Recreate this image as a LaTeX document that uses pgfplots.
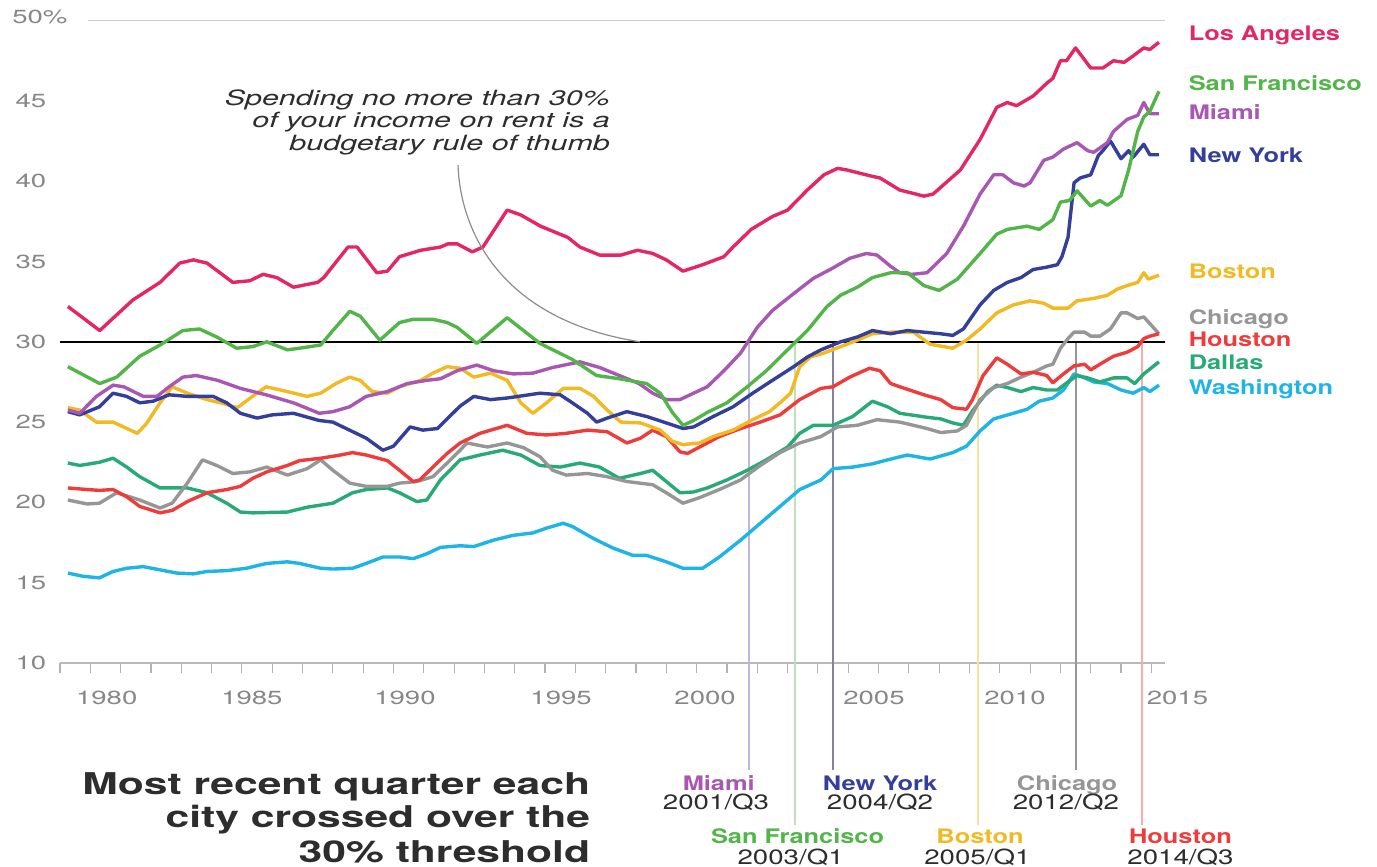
\documentclass[border=0pt]{standalone}
\usepackage{fontspec}
\setmainfont{TeX Gyre Heros}
\usepackage{graphicx}
\usepackage{pgfplots}
\pgfplotsset{compat=1.18}

\definecolor{cLA}{RGB}{228,38,100}
\definecolor{cSF}{RGB}{82,181,72}
\definecolor{cMI}{RGB}{168,88,178}
\definecolor{cNY}{RGB}{52,62,155}
\definecolor{cBO}{RGB}{242,185,35}
\definecolor{cCH}{RGB}{150,150,150}
\definecolor{cHO}{RGB}{238,60,60}
\definecolor{cDA}{RGB}{40,170,120}
\definecolor{cWA}{RGB}{30,180,230}
\definecolor{lMI}{RGB}{190,185,220}
\definecolor{lSF}{RGB}{190,225,185}
\definecolor{lNY}{RGB}{130,130,165}
\definecolor{lBO}{RGB}{245,225,160}
\definecolor{lCH}{RGB}{150,150,150}
\definecolor{lHO}{RGB}{245,175,170}
\definecolor{tickgray}{RGB}{135,135,135}
\definecolor{darktext}{RGB}{45,45,45}

\newcommand{\SX}[2]{\scalebox{#1}[1]{#2}}

\tikzset{
  ticklab/.style={font=\fontsize{9.5}{11}\selectfont, text=tickgray, inner sep=0pt},
  citylab/.style={font=\fontsize{10}{12}\selectfont\bfseries, inner sep=0pt, anchor=base west},
  botcity/.style={font=\fontsize{10}{12}\selectfont\bfseries, inner sep=0pt, anchor=base},
  botdate/.style={font=\fontsize{10.4}{12}\selectfont, text=darktext, inner sep=0pt, anchor=base},
  titlelab/.style={font=\fontsize{15}{18}\selectfont\bfseries, text=darktext, inner sep=0pt, anchor=base east},
  notelab/.style={font=\fontsize{10.5}{12}\selectfont\itshape, text=darktext, inner sep=0pt, anchor=base east},
}

\begin{document}
\begin{tikzpicture}
\begin{axis}[
  at={(0,0)}, anchor=south west,
  scale only axis, width=552.5pt, height=321.2pt,
  xmin=1979, xmax=2015.45, ymin=10, ymax=50,
  clip=false,
  axis x line=bottom, axis y line=none,
  x axis line style={draw=black!28, line width=1pt, -},
  xtick={1979,1980,...,2015}, xticklabels={}, tick align=outside,
  major tick length=5pt,
  xtick style={draw=black!30, line width=0.6pt},
  ytick={15,20,25,35,40,45}, yticklabels={}, ytick style={draw=none},
  ymajorgrids, grid style={black!20, line width=0.9pt},
  every axis plot/.append style={line width=1.7pt, line join=round, no markers},
]
% crossing lines
\draw[lMI, line width=0.8pt] (axis cs:2001.73,30) -- (axis cs:2001.73,3.34);
\draw[lSF, line width=0.8pt] (axis cs:2003.25,30) -- (axis cs:2003.25,-0.09);
\draw[lNY, line width=0.8pt] (axis cs:2004.5,30) -- (axis cs:2004.5,3.34);
\draw[lBO, line width=0.8pt] (axis cs:2009.29,30) -- (axis cs:2009.29,-0.09);
\draw[lCH, line width=0.8pt] (axis cs:2012.52,30) -- (axis cs:2012.52,3.34);
\draw[lHO, line width=0.8pt] (axis cs:2014.7,30) -- (axis cs:2014.7,-0.09);
% special grid lines
\draw[black!20, line width=0.9pt] (axis cs:1979.92,50) -- (axis cs:2015.45,50);
\draw[black, line width=1.3pt] (axis cs:1979,30) -- (axis cs:2015.45,30);

% Washington
\addplot[cWA] coordinates {(1979.26,15.6)(1979.75,15.4)(1980.3,15.3)(1980.75,15.7)(1981.2,15.9)(1981.75,16.0)(1982.3,15.8)(1982.85,15.6)(1983.4,15.55)(1983.85,15.7)(1984.5,15.75)(1985.15,15.9)(1985.82,16.2)(1986.5,16.3)(1986.9,16.2)(1987.6,15.9)(1988.0,15.85)(1988.65,15.9)(1989.1,16.2)(1989.65,16.6)(1990.2,16.6)(1990.65,16.5)(1991.1,16.8)(1991.55,17.2)(1992.2,17.3)(1992.65,17.25)(1993.3,17.65)(1993.95,17.95)(1994.6,18.1)(1995.05,18.4)(1995.6,18.7)(1995.9,18.5)(1996.6,17.75)(1997.25,17.15)(1997.9,16.7)(1998.35,16.7)(1999.0,16.3)(1999.55,15.9)(2000.2,15.9)(2000.75,16.6)(2001.45,17.65)(2002.1,18.7)(2002.75,19.75)(2003.4,20.8)(2004.1,21.4)(2004.5,22.1)(2005.15,22.2)(2005.8,22.4)(2006.3,22.65)(2006.95,22.95)(2007.7,22.7)(2008.45,23.1)(2008.9,23.5)(2009.35,24.45)(2009.8,25.2)(2010.45,25.55)(2010.9,25.8)(2011.3,26.3)(2011.75,26.5)(2012.1,27.0)(2012.45,28.0)(2012.8,27.75)(2013.1,27.5)(2013.55,27.4)(2014.0,27.0)(2014.4,26.8)(2014.75,27.15)(2014.95,26.9)(2015.25,27.3)};
% Dallas
\addplot[cDA] coordinates {(1979.26,22.45)(1979.65,22.3)(1980.3,22.5)(1980.75,22.75)(1981.2,22.2)(1981.63,21.6)(1982.3,20.9)(1983.2,20.9)(1983.85,20.6)(1984.5,19.95)(1984.95,19.4)(1985.36,19.35)(1986.5,19.4)(1987.15,19.7)(1988.0,19.95)(1988.65,20.6)(1989.1,20.8)(1989.8,20.9)(1990.2,20.6)(1990.77,20.05)(1991.1,20.15)(1991.55,21.4)(1992.2,22.65)(1992.85,22.95)(1993.6,23.25)(1994.2,22.95)(1994.83,22.3)(1995.5,22.2)(1996.15,22.45)(1996.8,22.2)(1997.45,21.5)(1998.15,21.8)(1998.55,22.0)(1999.0,21.3)(1999.45,20.6)(1999.9,20.65)(2000.35,20.9)(2001.0,21.4)(2001.67,22.0)(2002.3,22.65)(2003.0,23.45)(2003.4,24.3)(2003.85,24.8)(2004.5,24.8)(2005.15,25.35)(2005.8,26.3)(2006.3,25.95)(2006.7,25.55)(2007.6,25.3)(2008.05,25.2)(2008.45,24.95)(2008.8,24.8)(2009.1,25.7)(2009.6,26.9)(2009.9,27.3)(2010.25,27.15)(2010.7,26.9)(2011.1,27.15)(2011.55,27.0)(2011.9,27.0)(2012.25,27.5)(2012.55,27.9)(2012.9,27.75)(2013.3,27.5)(2013.75,27.75)(2014.2,27.75)(2014.45,27.4)(2014.75,28.0)(2015.25,28.75)};
% Chicago
\addplot[cCH] coordinates {(1979.26,20.15)(1979.9,19.9)(1980.3,19.95)(1980.87,20.6)(1981.63,20.15)(1982.3,19.65)(1982.7,19.95)(1983.2,21.2)(1983.7,22.65)(1984.17,22.3)(1984.7,21.8)(1985.26,21.9)(1985.82,22.2)(1986.5,21.7)(1987.15,22.1)(1987.6,22.65)(1988.0,22.0)(1988.56,21.2)(1989.1,21.0)(1989.8,21.0)(1990.2,21.2)(1990.77,21.3)(1991.3,21.6)(1991.77,22.45)(1992.2,23.25)(1992.42,23.7)(1993.1,23.45)(1993.75,23.7)(1994.3,23.4)(1994.83,22.85)(1995.25,22.0)(1995.7,21.7)(1996.4,21.8)(1997.05,21.6)(1997.7,21.3)(1998.55,21.1)(1999.0,20.6)(1999.55,19.95)(2000.1,20.3)(2000.75,20.8)(2001.45,21.4)(2002.1,22.3)(2002.75,23.1)(2003.4,23.7)(2004.1,24.1)(2004.65,24.7)(2005.3,24.8)(2005.95,25.15)(2006.7,25.0)(2007.6,24.6)(2008.05,24.35)(2008.6,24.45)(2008.9,24.8)(2009.35,26.4)(2009.8,27.15)(2010.25,27.4)(2010.7,27.8)(2011.1,28.1)(2011.55,28.5)(2011.75,28.6)(2012.0,29.6)(2012.25,30.2)(2012.45,30.6)(2012.8,30.6)(2013.0,30.35)(2013.3,30.35)(2013.65,30.8)(2014.0,31.8)(2014.2,31.8)(2014.55,31.45)(2014.75,31.55)(2015.25,30.5)};
% Houston
\addplot[cHO] coordinates {(1979.26,20.9)(1979.9,20.8)(1980.3,20.75)(1980.75,20.8)(1981.2,20.35)(1981.63,19.75)(1982.3,19.35)(1982.7,19.5)(1983.2,20.05)(1983.85,20.6)(1984.5,20.8)(1984.95,21.0)(1985.36,21.5)(1985.82,21.9)(1986.5,22.3)(1986.9,22.6)(1987.6,22.75)(1988.25,22.95)(1988.65,23.1)(1989.1,22.95)(1989.8,22.6)(1990.2,22.0)(1990.65,21.3)(1990.87,21.4)(1991.3,22.2)(1991.77,23.05)(1992.2,23.7)(1992.85,24.3)(1993.75,24.8)(1994.4,24.3)(1995.05,24.2)(1995.7,24.3)(1996.4,24.5)(1997.05,24.4)(1997.7,23.7)(1998.15,24.0)(1998.55,24.5)(1999.0,24.1)(1999.45,23.15)(1999.7,23.05)(2000.1,23.45)(2000.75,24.1)(2001.45,24.6)(2002.1,25.0)(2002.75,25.45)(2003.4,26.4)(2004.1,27.1)(2004.5,27.2)(2005.05,27.8)(2005.7,28.35)(2006.05,28.2)(2006.4,27.4)(2006.7,27.2)(2007.5,26.7)(2008.05,26.4)(2008.45,25.9)(2008.9,25.8)(2009.1,26.4)(2009.45,27.9)(2009.9,29.0)(2010.25,28.6)(2010.7,28.0)(2011.1,28.1)(2011.55,27.9)(2011.75,27.45)(2012.1,28.0)(2012.45,28.5)(2012.8,28.6)(2013.0,28.25)(2013.3,28.6)(2013.75,29.1)(2014.2,29.35)(2014.55,29.7)(2014.75,30.2)(2014.95,30.35)(2015.25,30.5)};
% Boston
\addplot[cBO] coordinates {(1979.26,25.9)(1979.65,25.75)(1980.2,25.0)(1980.75,25.0)(1981.55,24.3)(1981.85,24.9)(1982.3,26.2)(1982.7,27.2)(1983.2,26.8)(1983.85,26.4)(1984.3,26.2)(1984.85,25.9)(1985.35,26.6)(1985.8,27.2)(1986.5,26.9)(1987.15,26.6)(1987.6,26.8)(1988.1,27.4)(1988.55,27.8)(1988.9,27.6)(1989.3,26.9)(1989.8,26.8)(1990.2,27.2)(1990.9,27.6)(1991.3,28.05)(1991.77,28.45)(1992.2,28.35)(1992.65,27.8)(1993.2,28.05)(1993.75,27.6)(1994.2,26.2)(1994.6,25.55)(1995.05,26.2)(1995.6,27.1)(1996.15,27.1)(1996.6,26.6)(1997.05,25.75)(1997.5,25.0)(1998.15,24.95)(1998.8,24.5)(1999.2,23.8)(1999.55,23.6)(2000.1,23.7)(2000.55,24.1)(2001.2,24.5)(2001.85,25.15)(2002.4,25.65)(2002.75,26.2)(2003.1,26.8)(2003.4,28.45)(2003.75,29.05)(2004.2,29.3)(2004.75,29.7)(2005.3,30.1)(2005.8,30.5)(2006.4,30.6)(2007.15,30.6)(2007.7,29.85)(2008.45,29.6)(2008.9,30.1)(2009.35,30.8)(2009.9,31.8)(2010.45,32.3)(2011.0,32.55)(2011.45,32.4)(2011.75,32.1)(2012.25,32.1)(2012.55,32.55)(2013.1,32.7)(2013.55,32.9)(2013.9,33.3)(2014.2,33.5)(2014.55,33.7)(2014.75,34.3)(2014.9,33.9)(2015.25,34.15)};
% New York
\addplot[cNY] coordinates {(1979.26,25.65)(1979.65,25.45)(1980.3,25.95)(1980.75,26.8)(1981.2,26.6)(1981.63,26.2)(1982.07,26.3)(1982.6,26.7)(1983.2,26.6)(1984.05,26.6)(1984.5,26.2)(1984.95,25.55)(1985.5,25.25)(1986.0,25.45)(1986.7,25.55)(1987.55,25.1)(1988.0,25.0)(1988.55,24.5)(1989.1,24.0)(1989.65,23.25)(1990.0,23.5)(1990.55,24.7)(1990.97,24.5)(1991.45,24.6)(1991.85,25.35)(1992.2,26.0)(1992.65,26.6)(1993.2,26.4)(1993.75,26.5)(1994.83,26.8)(1995.5,26.7)(1995.9,26.2)(1996.4,25.55)(1996.7,25.0)(1997.05,25.25)(1997.7,25.65)(1998.35,25.35)(1999.0,24.95)(1999.55,24.6)(1999.9,24.7)(2000.55,25.35)(2001.2,25.95)(2001.85,26.8)(2002.5,27.6)(2003.2,28.45)(2003.65,29.05)(2004.1,29.5)(2004.75,30.0)(2005.3,30.3)(2005.8,30.7)(2006.4,30.5)(2006.95,30.7)(2007.5,30.6)(2008.05,30.5)(2008.45,30.4)(2008.8,30.8)(2009.35,32.3)(2009.8,33.2)(2010.25,33.7)(2010.7,34.0)(2011.1,34.5)(2011.55,34.65)(2011.9,34.8)(2012.05,35.3)(2012.25,36.5)(2012.45,39.9)(2012.65,40.2)(2013.0,40.4)(2013.25,41.6)(2013.4,41.9)(2013.65,42.5)(2014.0,41.4)(2014.25,41.9)(2014.4,41.5)(2014.75,42.3)(2014.95,41.65)(2015.25,41.65)};
% Miami
\addplot[cMI] coordinates {(1979.26,25.75)(1979.65,25.55)(1980.2,26.6)(1980.75,27.3)(1981.1,27.2)(1981.75,26.6)(1982.2,26.6)(1982.6,27.2)(1983.05,27.8)(1983.5,27.9)(1984.2,27.6)(1984.95,27.1)(1985.8,26.7)(1986.7,26.2)(1987.55,25.55)(1988.0,25.65)(1988.55,25.95)(1989.1,26.6)(1989.8,26.9)(1990.45,27.4)(1991.1,27.6)(1991.55,27.7)(1992.1,28.2)(1992.75,28.55)(1993.3,28.2)(1993.95,28.0)(1994.6,28.05)(1995.25,28.4)(1996.15,28.75)(1996.8,28.4)(1997.45,27.9)(1998.1,27.4)(1998.55,26.8)(1999.0,26.4)(1999.45,26.4)(1999.9,26.8)(2000.35,27.2)(2000.9,28.2)(2001.45,29.3)(2002.0,30.9)(2002.5,31.95)(2003.2,33.0)(2003.85,33.95)(2004.5,34.6)(2005.05,35.2)(2005.6,35.5)(2005.95,35.4)(2006.4,34.7)(2006.7,34.3)(2007.1,34.2)(2007.6,34.3)(2008.25,35.5)(2008.8,37.2)(2009.35,39.2)(2009.8,40.4)(2010.1,40.4)(2010.45,39.9)(2010.8,39.7)(2011.0,39.9)(2011.45,41.3)(2011.75,41.5)(2012.1,42.0)(2012.55,42.4)(2012.9,41.9)(2013.1,41.8)(2013.55,42.4)(2013.75,43.1)(2014.2,43.85)(2014.55,44.1)(2014.75,44.9)(2014.95,44.2)(2015.25,44.2)};
% San Francisco
\addplot[cSF] coordinates {(1979.26,28.45)(1980.31,27.4)(1980.87,27.8)(1981.63,29.1)(1982.3,29.8)(1983.05,30.7)(1983.6,30.8)(1984.17,30.3)(1984.83,29.6)(1985.36,29.7)(1985.82,30.0)(1986.5,29.5)(1986.9,29.6)(1987.6,29.8)(1988.0,30.7)(1988.56,31.9)(1988.9,31.6)(1989.55,30.1)(1990.2,31.2)(1990.65,31.4)(1991.3,31.4)(1991.77,31.2)(1992.1,30.9)(1992.75,29.9)(1993.75,31.5)(1994.83,29.9)(1995.9,28.9)(1996.7,27.9)(1997.45,27.7)(1998.35,27.4)(1998.8,26.8)(1999.2,25.6)(1999.55,24.8)(1999.9,25.1)(2000.35,25.6)(2001.0,26.2)(2001.67,27.2)(2002.3,28.2)(2003.0,29.5)(2003.65,30.7)(2004.3,32.2)(2004.75,32.9)(2005.3,33.4)(2005.8,34.0)(2006.4,34.3)(2006.95,34.3)(2007.5,33.5)(2008.0,33.2)(2008.6,33.9)(2009.35,35.5)(2009.9,36.7)(2010.25,37.0)(2010.9,37.2)(2011.3,37.0)(2011.75,37.6)(2012.0,38.7)(2012.3,38.8)(2012.55,39.4)(2013.0,38.45)(2013.3,38.8)(2013.55,38.5)(2014.0,39.1)(2014.25,40.7)(2014.55,43.1)(2014.75,44.0)(2014.95,44.35)(2015.25,45.6)};
% Los Angeles
\addplot[cLA] coordinates {(1979.26,32.2)(1980.31,30.7)(1981.4,32.6)(1982.3,33.7)(1982.95,34.9)(1983.4,35.1)(1983.85,34.9)(1984.7,33.7)(1985.26,33.8)(1985.7,34.2)(1986.15,34.0)(1986.7,33.4)(1987.5,33.7)(1987.7,34.0)(1988.5,35.9)(1988.8,35.9)(1989.45,34.3)(1989.8,34.4)(1990.2,35.3)(1990.9,35.7)(1991.55,35.9)(1991.8,36.1)(1992.1,36.1)(1992.6,35.6)(1992.95,35.9)(1993.75,38.2)(1994.2,37.9)(1994.85,37.2)(1995.75,36.5)(1996.15,35.9)(1996.8,35.4)(1997.5,35.4)(1998.05,35.7)(1998.55,35.5)(1999.0,35.1)(1999.55,34.4)(2000.2,34.8)(2000.9,35.3)(2001.2,35.9)(2001.8,37.0)(2002.5,37.8)(2003.0,38.2)(2003.65,39.45)(2004.2,40.4)(2004.65,40.8)(2004.95,40.7)(2005.8,40.3)(2006.05,40.2)(2006.7,39.45)(2007.5,39.07)(2007.8,39.2)(2008.7,40.7)(2009.35,42.6)(2009.9,44.6)(2010.25,44.9)(2010.55,44.7)(2011.1,45.3)(2011.55,46.1)(2011.75,46.4)(2012.0,47.5)(2012.2,47.5)(2012.5,48.3)(2013.0,47.05)(2013.4,47.05)(2013.75,47.5)(2014.1,47.4)(2014.4,47.8)(2014.75,48.3)(2014.95,48.2)(2015.25,48.65)};

% annotation
\fill[white] (axis cs:1983.28,44.3) rectangle (axis cs:1998.46,45.7);
\draw[black!45, line width=0.6pt] (axis cs:1992.13,41.0) .. controls (axis cs:1992.2,36.96) and (axis cs:1993.51,31.36) .. (axis cs:1998.13,30.0);
\node[notelab] at (axis cs:1997.15,44.74) {\SX{1.45}{Spending no more than 30\%}};
\node[notelab] at (axis cs:1997.15,43.34) {\SX{1.45}{of your income on rent is a}};
\node[notelab] at (axis cs:1997.15,41.94) {\SX{1.45}{budgetary rule of thumb}};

% y labels
\node[ticklab, anchor=east] at (axis cs:1978.56,10) {\SX{1.45}{10}};
\node[ticklab, anchor=east] at (axis cs:1978.56,15) {\SX{1.45}{15}};
\node[ticklab, anchor=east] at (axis cs:1978.56,20) {\SX{1.45}{20}};
\node[ticklab, anchor=east] at (axis cs:1978.56,25) {\SX{1.45}{25}};
\node[ticklab, anchor=east] at (axis cs:1978.56,30) {\SX{1.45}{30}};
\node[ticklab, anchor=east] at (axis cs:1978.56,35) {\SX{1.45}{35}};
\node[ticklab, anchor=east] at (axis cs:1978.56,40) {\SX{1.45}{40}};
\node[ticklab, anchor=east] at (axis cs:1978.56,45) {\SX{1.45}{45}};
\node[ticklab, anchor=east] at (axis cs:1979.26,50.24) {\SX{1.45}{50\%}};
% x labels
\node[ticklab, anchor=base] at (axis cs:1980.54,7.385) {\SX{1.45}{1980}};
\node[ticklab, anchor=base] at (axis cs:1985.33,7.385) {\SX{1.45}{1985}};
\node[ticklab, anchor=base] at (axis cs:1990.38,7.385) {\SX{1.45}{1990}};
\node[ticklab, anchor=base] at (axis cs:1995.53,7.385) {\SX{1.45}{1995}};
\node[ticklab, anchor=base] at (axis cs:2000.28,7.385) {\SX{1.45}{2000}};
\node[ticklab, anchor=base] at (axis cs:2005.85,7.385) {\SX{1.45}{2005}};
\node[ticklab, anchor=base] at (axis cs:2010.5,7.385) {\SX{1.45}{2010}};
\node[ticklab, anchor=base] at (axis cs:2015.86,7.385) {\SX{1.45}{2015}};

% right city labels
\node[citylab, text=cLA] at (axis cs:2016.22,48.76) {\SX{1.27}{Los Angeles}};
\node[citylab, text=cSF] at (axis cs:2016.22,45.65) {\SX{1.27}{San Francisco}};
\node[citylab, text=cMI] at (axis cs:2016.22,43.84) {\SX{1.27}{Miami}};
\node[citylab, text=cNY] at (axis cs:2016.22,41.16) {\SX{1.27}{New York}};
\node[citylab, text=cBO] at (axis cs:2016.22,33.94) {\SX{1.27}{Boston}};
\node[citylab, text=cCH] at (axis cs:2016.22,31.08) {\SX{1.27}{Chicago}};
\node[citylab, text=cHO] at (axis cs:2016.22,29.71) {\SX{1.27}{Houston}};
\node[citylab, text=cDA] at (axis cs:2016.22,28.28) {\SX{1.27}{Dallas}};
\node[citylab, text=cWA] at (axis cs:2016.22,26.72) {\SX{1.27}{Washington}};

% bottom crossing labels
\node[botcity, text=cMI] at (axis cs:2000.73,2.09) {\SX{1.27}{Miami}};
\node[botdate] at (axis cs:2000.64,0.85) {\SX{1.33}{2001/Q3}};
\node[botcity, text=cNY] at (axis cs:2006.05,2.09) {\SX{1.27}{New York}};
\node[botdate] at (axis cs:2006.05,0.85) {\SX{1.33}{2004/Q2}};
\node[botcity, text=cCH] at (axis cs:2012.22,2.09) {\SX{1.27}{Chicago}};
\node[botdate] at (axis cs:2012.18,0.85) {\SX{1.33}{2012/Q2}};
\node[botcity, text=cSF] at (axis cs:2003.33,-1.21) {\SX{1.27}{San Francisco}};
\node[botdate] at (axis cs:2003.1,-2.52) {\SX{1.33}{2003/Q1}};
\node[botcity, text=cBO] at (axis cs:2009.35,-1.21) {\SX{1.27}{Boston}};
\node[botdate] at (axis cs:2009.26,-2.52) {\SX{1.33}{2005/Q1}};
\node[botcity, text=cHO] at (axis cs:2015.96,-1.21) {\SX{1.27}{Houston}};
\node[botdate] at (axis cs:2015.96,-2.52) {\SX{1.33}{2014/Q3}};

% title
\node[titlelab] at (axis cs:1996.5,1.84) {\SX{1.42}{Most recent quarter each}};
\node[titlelab] at (axis cs:1996.5,-0.27) {\SX{1.42}{city crossed over the}};
\node[titlelab] at (axis cs:1996.5,-2.45) {\SX{1.42}{30\% threshold}};
\end{axis}
\pgfresetboundingbox
\path (-30pt,-102pt) rectangle (658.5pt,331.5pt);
\end{tikzpicture}
\end{document}
